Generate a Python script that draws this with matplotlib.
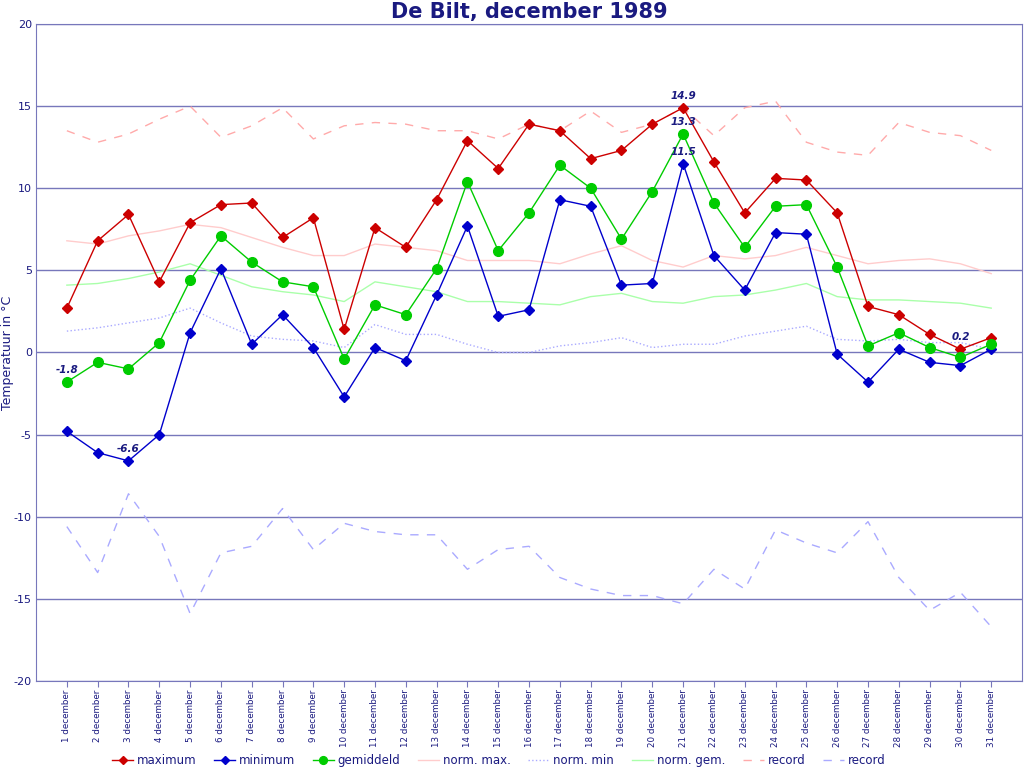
import matplotlib.pyplot as plt

plt.rcParams['axes.unicode_minus'] = False

days = list(range(1, 32))
labels = [f'{d} december' for d in days]

maximum = [2.7, 6.8, 8.4, 4.3, 7.9, 9.0, 9.1, 7.0, 8.2, 1.4,
           7.6, 6.4, 9.3, 12.9, 11.2, 13.9, 13.5, 11.8, 12.3, 13.9,
           14.9, 11.6, 8.5, 10.6, 10.5, 8.5, 2.8, 2.3, 1.1, 0.2, 0.9]
minimum = [-4.8, -6.1, -6.6, -5.0, 1.2, 5.1, 0.5, 2.3, 0.3, -2.7,
           0.3, -0.5, 3.5, 7.7, 2.2, 2.6, 9.3, 8.9, 4.1, 4.2,
           11.5, 5.9, 3.8, 7.3, 7.2, -0.1, -1.8, 0.2, -0.6, -0.8, 0.2]
gemiddeld = [-1.8, -0.6, -1.0, 0.6, 4.4, 7.1, 5.5, 4.3, 4.0, -0.4,
             2.9, 2.3, 5.1, 10.4, 6.2, 8.5, 11.4, 10.0, 6.9, 9.8,
             13.3, 9.1, 6.4, 8.9, 9.0, 5.2, 0.4, 1.2, 0.3, -0.3, 0.5]
norm_max = [6.8, 6.6, 7.1, 7.4, 7.8, 7.6, 7.0, 6.4, 5.9, 5.9,
            6.6, 6.4, 6.2, 5.6, 5.6, 5.6, 5.4, 6.0, 6.5, 5.6,
            5.2, 5.9, 5.7, 5.9, 6.4, 5.9, 5.4, 5.6, 5.7, 5.4, 4.8]
norm_min = [1.3, 1.5, 1.8, 2.1, 2.7, 1.8, 1.0, 0.8, 0.7, 0.3,
            1.7, 1.1, 1.1, 0.5, 0.0, 0.0, 0.4, 0.6, 0.9, 0.3,
            0.5, 0.5, 1.0, 1.3, 1.6, 0.8, 0.7, 0.8, 0.6, 0.6, 0.2]
norm_gem = [4.1, 4.2, 4.5, 4.9, 5.4, 4.7, 4.0, 3.7, 3.5, 3.1,
            4.3, 4.0, 3.7, 3.1, 3.1, 3.0, 2.9, 3.4, 3.6, 3.1,
            3.0, 3.4, 3.5, 3.8, 4.2, 3.4, 3.2, 3.2, 3.1, 3.0, 2.7]
record_max = [13.5, 12.8, 13.3, 14.2, 15.0, 13.1, 13.8, 14.9, 13.0, 13.8,
              14.0, 13.9, 13.5, 13.5, 13.0, 13.9, 13.5, 14.7, 13.4, 13.9,
              14.9, 13.2, 14.9, 15.3, 12.8, 12.2, 12.0, 14.0, 13.4, 13.2, 12.3]
record_min = [-10.6, -13.4, -8.6, -11.2, -15.9, -12.2, -11.8, -9.5, -12.0, -10.4,
              -10.9, -11.1, -11.1, -13.2, -12.0, -11.8, -13.7, -14.4, -14.8, -14.8,
              -15.3, -13.2, -14.4, -10.8, -11.6, -12.2, -10.3, -13.7, -15.7, -14.6, -16.7]

navy = '#1a1a80'
axis_col = '#7777bb'

fig = plt.figure(figsize=(10.24, 7.68), dpi=100)
ax = fig.add_axes([0.0352, 0.1133, 0.9629, 0.8555])

ax.plot(days, maximum, color='#cc0000', lw=1, marker='D', ms=5, label='maximum', zorder=5)
ax.plot(days, minimum, color='#0000cc', lw=1, marker='D', ms=5, label='minimum', zorder=5)
ax.plot(days, gemiddeld, color='#00cc00', lw=1, marker='o', ms=7, label='gemiddeld', zorder=5)
ax.plot(days, norm_max, color='#ffcccc', lw=1, label='norm. max.', zorder=3)
ax.plot(days, norm_min, color='#aaaaff', lw=1, ls=':', label='norm. min', zorder=3)
ax.plot(days, norm_gem, color='#aaffaa', lw=1, label='norm. gem.', zorder=3)
ax.plot(days, record_max, color='#ffaaaa', lw=1, ls=(0, (6, 6)), label='record', zorder=3)
ax.plot(days, record_min, color='#aaaaff', lw=1, ls=(0, (6, 6)), label='record', zorder=3)

# labels at extremes
ann = [(1, gemiddeld[0]), (3, minimum[2]), (21, maximum[20]), (21, gemiddeld[20]),
       (21, minimum[20]), (30, maximum[29])]
for d, v in ann:
    ax.annotate(f'{v:.1f}', (d, v), xytext=(0, 5), textcoords='offset points',
                ha='center', va='bottom', fontsize=7.5, fontweight='bold',
                fontstyle='italic', color=navy, zorder=6)

ax.set_xlim(0, 32)
ax.set_ylim(-20, 20)
ax.set_yticks(range(-20, 21, 5))
ax.set_xticks(days)
ax.set_xticklabels(labels, rotation=90, fontsize=6.3, color=navy)
ax.tick_params(axis='y', labelsize=8, labelcolor=navy, length=0, pad=3)
ax.tick_params(axis='x', color=axis_col, length=4, pad=2)
ax.yaxis.grid(True, color=axis_col, lw=1)
ax.set_axisbelow(True)
for s in ax.spines.values():
    s.set_color(axis_col)

fig.text(0.0075, 0.541, 'Temperatuur in °C', color=navy, fontsize=9,
         rotation=90, ha='center', va='center')
ax.set_title('De Bilt, december 1989', color=navy, fontsize=15, fontweight='bold', pad=4)

fig.legend(loc='lower center', bbox_to_anchor=(0.487, -0.013), ncol=8, frameon=False,
           fontsize=8.5, labelcolor=navy, handlelength=1.8, columnspacing=1.5,
           handletextpad=0.3, markerscale=0.8)

fig.savefig('out.png', dpi=100)
